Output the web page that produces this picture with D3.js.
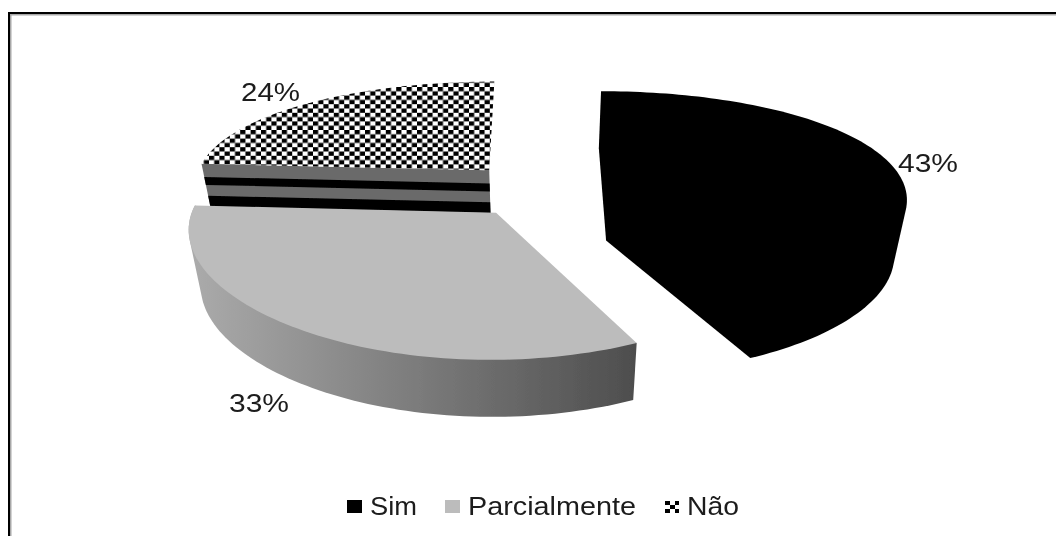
<!DOCTYPE html>
<html>
<head>
<meta charset="utf-8">
<script src="https://cdn.jsdelivr.net/npm/d3@7"></script>
<style>
    html, body { margin: 0; padding: 0; background: #fff; }
    svg { display: block; }
    text { font-family: "Liberation Sans", Arial, sans-serif; font-size: 25px; fill: #1c1c1c; }
</style>
</head>
<body>
<svg id="chart" width="1056" height="536"></svg>
<script>
// Survey answers, shown as an exploded pseudo-3D pie
const categories = ['Sim', 'Parcialmente', 'Não'];
const shares = [43, 33, 24];
const labels = ['43%', '33%', '24%'];

(function() {
    'use strict';

    const svg = d3.select('#chart');
    const defs = svg.append('defs');

    // Perspective of the pie plane (plane radius = 1)
    const centerX = 538, centerY = 189.5;
    const radiusX = 297, radiusY = 111;
    const tiltX = 0.12, tiltY = 0.18;
    const explode = 0.245;
    const depth = 57;
    const taper = 0.035; // bottom face is a little narrower than the top

    function project(px, py, z) {
        const x = radiusX * px / (1 + tiltX * py);
        return [
            centerX + x * (1 - taper * z),
            centerY - radiusY * py / (1 + tiltY * py) + z * depth
        ];
    }

    const slices = d3.pie().sort(null).value(d => d)(shares).map((s, i) => {
        const mid = (s.startAngle + s.endAngle) / 2;
        const ox = explode * Math.sin(mid);
        const oy = explode * Math.cos(mid);
        return {
            name: categories[i],
            label: labels[i],
            start: s.startAngle,
            end: s.endAngle,
            apex: z => project(ox, oy, z),
            rim: (a, z) => project(ox + Math.sin(a), oy + Math.cos(a), z)
        };
    });

    const line = d3.line().curve(d3.curveLinearClosed);

    function arcPoints(s, a0, a1, z) {
        const n = Math.ceil(Math.abs(a1 - a0) * 40);
        return d3.range(n + 1).map(k => s.rim(a0 + (a1 - a0) * k / n, z));
    }

    function topPath(s) {
        return line([s.apex(0), ...arcPoints(s, s.start, s.end, 0)]);
    }

    // Hull of both rims: the top face covers the part above the chord
    function sidePath(s) {
        return line(d3.polygonHull([
            ...arcPoints(s, s.start, s.end, 0),
            ...arcPoints(s, s.start, s.end, 1)
        ]));
    }

    // Whole outline of an extruded slice, used where all faces share a colour
    function solidPath(s) {
        return line(d3.polygonHull([
            s.apex(0),
            s.apex(1),
            ...arcPoints(s, s.start, s.end, 0),
            ...arcPoints(s, s.start, s.end, 1)
        ]));
    }

    function cutPath(s, angle, z0, z1) {
        return line([s.apex(z0), s.rim(angle, z0), s.rim(angle, z1), s.apex(z1)]);
    }

    // Fills
    const checker = defs.append('pattern')
        .attr('id', 'checker')
        .attr('patternUnits', 'userSpaceOnUse')
        .attr('width', 10.4)
        .attr('height', 8.6)
        .attr('x', 1)
        .attr('y', 1);
    checker.append('rect').attr('width', 10.4).attr('height', 8.6).attr('fill', '#fff');
    checker.append('rect').attr('width', 5.2).attr('height', 4.3).attr('fill', '#000');
    checker.append('rect').attr('x', 5.2).attr('y', 4.3).attr('width', 5.2).attr('height', 4.3).attr('fill', '#000');

    const swatchChecker = defs.append('pattern')
        .attr('id', 'swatch-checker')
        .attr('patternUnits', 'userSpaceOnUse')
        .attr('width', 10)
        .attr('height', 8)
        .attr('x', 665)
        .attr('y', 501);
    swatchChecker.append('rect').attr('width', 10).attr('height', 8).attr('fill', '#fff');
    swatchChecker.append('rect').attr('width', 5).attr('height', 4).attr('fill', '#000');
    swatchChecker.append('rect').attr('x', 5).attr('y', 4).attr('width', 5).attr('height', 4).attr('fill', '#000');

    const sideGrad = defs.append('linearGradient')
        .attr('id', 'side-grad')
        .attr('gradientUnits', 'userSpaceOnUse')
        .attr('x1', 190).attr('x2', 634).attr('y1', 0).attr('y2', 0);
    sideGrad.append('stop').attr('offset', 0).attr('stop-color', '#ababab');
    sideGrad.append('stop').attr('offset', 1).attr('stop-color', '#4e4e4e');

    defs.append('filter')
        .attr('id', 'soft')
        .attr('x', 0).attr('y', 0).attr('width', 1).attr('height', 1)
        .append('feGaussianBlur')
        .attr('stdDeviation', 0.45);

    const g = svg.append('g').attr('filter', 'url(#soft)');

    // White backdrop so the blur filter has the full region to work on
    g.append('rect').attr('width', 1056).attr('height', 536).attr('fill', '#fff');

    // Outer frame: only the top and left edges show
    g.append('rect').attr('x', 8).attr('y', 12).attr('width', 1048).attr('height', 2).attr('fill', '#000');
    g.append('rect').attr('x', 8).attr('y', 12).attr('width', 2).attr('height', 524).attr('fill', '#000');
    g.append('rect').attr('x', 10).attr('y', 14).attr('width', 1046).attr('height', 1.5).attr('fill', '#a8a8a8');
    g.append('rect').attr('x', 10).attr('y', 14).attr('width', 1.5).attr('height', 522).attr('fill', '#a8a8a8');

    const [sim, parcial, nao] = slices;

    // Não sits at the back: striped cut face, then the checkered top
    g.append('path').attr('d', cutPath(nao, nao.start, 0, 1)).attr('fill', '#6b6b6b');
    [[0.23, 0.37], [0.56, 0.75]].forEach(band => {
        g.append('path').attr('d', cutPath(nao, nao.start, band[0], band[1])).attr('fill', '#000');
    });
    g.append('path').attr('d', topPath(nao)).attr('fill', 'url(#checker)');

    // Sim is solid black, so its faces merge into one shape
    g.append('path').attr('d', solidPath(sim)).attr('fill', '#000');

    // Parcialmente in front
    g.append('path').attr('d', sidePath(parcial)).attr('fill', 'url(#side-grad)');
    g.append('path').attr('d', topPath(parcial)).attr('fill', '#bcbcbc');

    // Text is stretched sideways in the original
    function addText(x, y, str, width) {
        g.append('text')
            .attr('x', x)
            .attr('y', y)
            .attr('textLength', width)
            .attr('lengthAdjust', 'spacingAndGlyphs')
            .text(str);
    }

    // Value labels
    addText(898, 172, sim.label, 60);
    addText(229, 412, parcial.label, 60);
    addText(241, 101, nao.label, 59);

    // Legend
    g.append('rect').attr('x', 347).attr('y', 500).attr('width', 15).attr('height', 13).attr('fill', '#000');
    addText(370, 515, categories[0], 47);
    g.append('rect').attr('x', 445).attr('y', 500).attr('width', 15).attr('height', 13).attr('fill', '#bcbcbc');
    addText(468, 515, categories[1], 168);
    g.append('rect').attr('x', 665).attr('y', 501).attr('width', 14).attr('height', 12).attr('fill', 'url(#swatch-checker)');
    addText(687, 515, categories[2], 52);
})();
</script>
</body>
</html>
